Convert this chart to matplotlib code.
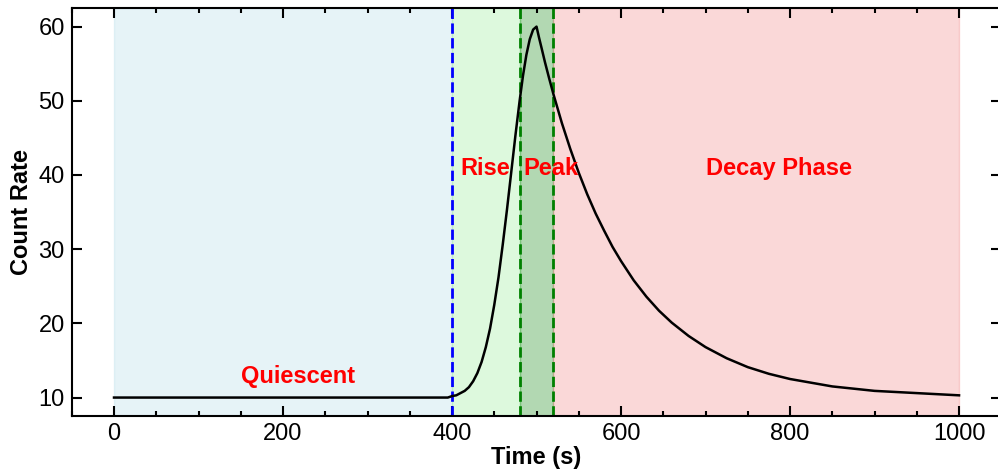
import matplotlib
matplotlib.use("Agg")
import matplotlib.pyplot as plt
from matplotlib.ticker import MultipleLocator

plt.rcParams['font.family'] = ['Liberation Sans', 'DejaVu Sans']

# Light curve (time in s, count rate)
time = [0, 100, 200, 300, 395, 400, 405, 410, 415, 420, 425, 430, 435, 440,
        445, 450, 455, 460, 465, 470, 475, 480, 484, 488, 492, 496, 500,
        503, 506, 510, 515, 520, 530, 540, 550, 560, 570, 580, 590, 600,
        615, 630, 645, 660, 680, 700, 725, 750, 775, 800, 850, 900, 950, 1000]
rate = [10.0, 10.0, 10.0, 10.0, 10.0, 10.2, 10.3, 10.6, 10.9, 11.4, 12.2,
        13.3, 14.8, 16.8, 19.3, 22.5, 26.2, 30.6, 35.3, 40.3, 45.3, 50.0,
        53.4, 56.2, 58.3, 59.6, 60.0, 58.5, 57.1, 55.2, 53.0, 50.9, 47.0,
        43.5, 40.3, 37.4, 34.8, 32.5, 30.3, 28.4, 25.8, 23.6, 21.7, 20.1,
        18.3, 16.8, 15.3, 14.1, 13.2, 12.5, 11.5, 10.9, 10.6, 10.3]

# Phases
phase_start = [0, 400, 480, 520]
phase_end = [400, 480, 520, 1000]
phase_color = ['lightblue', 'lightgreen', 'green', 'lightcoral']
phase_label = ['Quiescent', 'Rise', 'Peak', 'Decay Phase']
label_x = [150, 410, 485, 700]
label_y = [12, 40, 40, 40]

boundary_x = [400, 480, 520]
boundary_color = ['blue', 'green', 'green']

fig = plt.figure(figsize=(9.98, 4.75), dpi=100)
ax = fig.add_axes([0.0719, 0.124, 0.9314, 0.859])

for s, e, c in zip(phase_start, phase_end, phase_color):
    ax.axvspan(s, e, color=c, alpha=0.3, zorder=0)

ax.plot(time, rate, color='black', lw=1.8, zorder=3)

for bx, bc in zip(boundary_x, boundary_color):
    ax.axvline(bx, color=bc, ls='--', lw=2.0, zorder=2)

for lab, lx, ly in zip(phase_label, label_x, label_y):
    ax.text(lx, ly, lab, color='red', fontsize=17, fontweight='bold', ha='left')

ax.set_xlabel('Time (s)', fontsize=17, fontweight='bold', labelpad=1)
ax.set_ylabel('Count Rate', fontsize=17, fontweight='bold', labelpad=4)

ax.xaxis.set_major_locator(MultipleLocator(200))
ax.xaxis.set_minor_locator(MultipleLocator(50))
ax.yaxis.set_major_locator(MultipleLocator(10))

ax.tick_params(axis='both', which='major', direction='in', top=True, right=True,
               length=7, width=1.5, labelsize=17, pad=5)
ax.tick_params(axis='x', which='minor', direction='in', top=True, bottom=True,
               length=3.5, width=1.5)
for sp in ax.spines.values():
    sp.set_linewidth(1.5)

fig.savefig('out.png', dpi=100)
